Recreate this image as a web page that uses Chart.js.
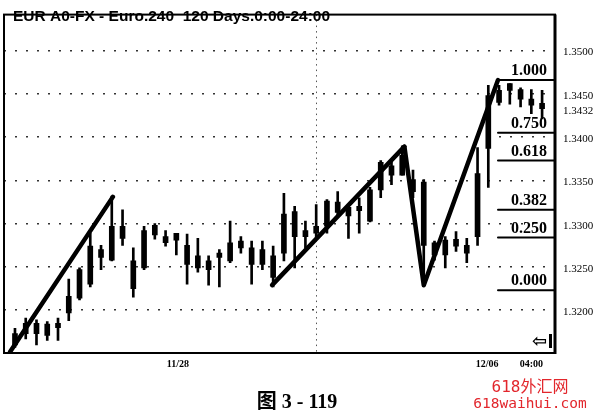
<!DOCTYPE html>
<html>
<head>
<meta charset="utf-8">
<script src="https://cdn.jsdelivr.net/npm/chart.js@4.4.1/dist/chart.umd.min.js"></script>
<style>
  html, body { margin: 0; padding: 0; background: #fff; }
  #wrap { width: 594px; height: 419px; }
</style>
</head>
<body>
<div id="wrap"><canvas id="chart" width="594" height="419"></canvas></div>
<script>
// EUR 4h candles (index 0 = first candle on the left)
const highs = [1.3179, 1.3191, 1.3189, 1.3187, 1.3191, 1.3236, 1.3249, 1.3289, 1.3275, 1.3332,
  1.3316, 1.3272, 1.3297, 1.3300, 1.3292, 1.3289, 1.3288, 1.3283, 1.3263, 1.3270,
  1.3303, 1.3285, 1.3280, 1.3280, 1.3274, 1.3335, 1.3320, 1.3303, 1.3322, 1.3328,
  1.3337, 1.3320, 1.3330, 1.3342, 1.3373, 1.3373, 1.3390, 1.3362, 1.3351, 1.3280,
  1.3285, 1.3291, 1.3283, 1.3388, 1.3460, 1.3460, 1.3462, 1.3457, 1.3455, 1.3454];
const lows = [1.3157, 1.3167, 1.3160, 1.3165, 1.3165, 1.3188, 1.3212, 1.3227, 1.3247, 1.3257,
  1.3275, 1.3215, 1.3247, 1.3282, 1.3274, 1.3264, 1.3230, 1.3244, 1.3229, 1.3227,
  1.3255, 1.3266, 1.3230, 1.3247, 1.3227, 1.3257, 1.3249, 1.3272, 1.3285, 1.3289,
  1.3309, 1.3283, 1.3289, 1.3302, 1.3330, 1.3345, 1.3356, 1.3330, 1.3229, 1.3258,
  1.3249, 1.3268, 1.3255, 1.3275, 1.3342, 1.3437, 1.3438, 1.3435, 1.3427, 1.3421];
const bodyHigh = [1.3173, 1.3185, 1.3185, 1.3184, 1.3185, 1.3216, 1.3247, 1.3274, 1.3270, 1.3297,
  1.3297, 1.3257, 1.3292, 1.3298, 1.3285, 1.3289, 1.3275, 1.3263, 1.3257, 1.3266,
  1.3278, 1.3280, 1.3272, 1.3270, 1.3263, 1.3311, 1.3314, 1.3292, 1.3297, 1.3326,
  1.3325, 1.3319, 1.3320, 1.3339, 1.3371, 1.3367, 1.3379, 1.3351, 1.3348, 1.3278,
  1.3281, 1.3282, 1.3275, 1.3358, 1.3448, 1.3454, 1.3462, 1.3455, 1.3444, 1.3439];
const bodyLow = [1.3160, 1.3173, 1.3173, 1.3171, 1.3180, 1.3197, 1.3214, 1.3230, 1.3261, 1.3258,
  1.3283, 1.3225, 1.3249, 1.3287, 1.3278, 1.3281, 1.3253, 1.3249, 1.3247, 1.3261,
  1.3257, 1.3272, 1.3253, 1.3253, 1.3238, 1.3266, 1.3285, 1.3285, 1.3289, 1.3297,
  1.3313, 1.3309, 1.3315, 1.3303, 1.3339, 1.3356, 1.3356, 1.3337, 1.3275, 1.3264,
  1.3264, 1.3274, 1.3266, 1.3285, 1.3387, 1.3440, 1.3454, 1.3444, 1.3437, 1.3433];

// hand-drawn trend lines, [candle index, price]
const trendUp1 = [[-0.45, 1.3152], [9.1, 1.3331]];
const trendUp2 = [[23.9, 1.3229], [36.2, 1.3389]];
const trendSwing = [[36.2, 1.3389], [38.0, 1.3229], [44.9, 1.3466]];

// fibonacci retracement levels
const fibRatios = ["1.000", "0.750", "0.618", "0.382", "0.250", "0.000"];
const fibPrices = [1.3466, 1.3405, 1.3373, 1.3316, 1.3284, 1.3223];
const fibStart = 44.9;

// axis ticks
const yTicks = [1.3200, 1.3250, 1.3300, 1.3350, 1.3400, 1.3432, 1.3450, 1.3500];
const yTickLabels = ["1.3200", "1.3250", "1.3300", "1.3350", "1.3400", "1.3432", "1.3450", "1.3500"];
const xTicks = [15.15, 28.0, 43.9, 48.0];
const xTickLabels = ["11/28", "", "12/06", "04:00"];

const title = "EUR A0-FX - Euro.240  120 Days.0:00-24:00";
const caption = "图 3 - 119";
const watermark = ["618外汇网", "618waihui.com"];

const X_MIN = -1.02;
const X_MAX = 50.2;

const toPoints = (line) => line.map(([x, y]) => ({ x, y }));

const candleIdx = highs.map((_, i) => i);

const lineSet = (data, width) => ({
  type: "line",
  data,
  borderColor: "#000",
  borderWidth: width,
  pointRadius: 0,
  borderCapStyle: "round",
  borderJoinStyle: "round",
  fill: false,
  order: 0,
});

const datasets = [
  {
    type: "bar",
    data: candleIdx.map((i) => ({ x: i, y: [lows[i], highs[i]] })),
    backgroundColor: "#000",
    barThickness: 2,
    grouped: false,
    order: 2,
  },
  {
    type: "bar",
    data: candleIdx.map((i) => ({ x: i, y: [bodyLow[i], bodyHigh[i]] })),
    backgroundColor: "#000",
    barThickness: 5,
    grouped: false,
    order: 1,
  },
  lineSet(toPoints(trendUp1), 4.5),
  lineSet(toPoints(trendUp2), 4.5),
  lineSet(toPoints(trendSwing), 4.5),
  ...fibPrices.map((p) => lineSet([{ x: fibStart, y: p }, { x: X_MAX, y: p }], 2)),
];

const decorations = {
  id: "decorations",
  afterDraw(chart) {
    const { ctx, chartArea: a, scales } = chart;
    ctx.save();

    // frame
    ctx.strokeStyle = "#000";
    ctx.lineWidth = 2;
    ctx.strokeRect(a.left, a.top, a.right - a.left, a.bottom - a.top);
    ctx.lineWidth = 3;
    ctx.beginPath();
    ctx.moveTo(a.right, a.top);
    ctx.lineTo(a.right, a.bottom + 1);
    ctx.stroke();

    ctx.fillStyle = "#000";
    ctx.textBaseline = "alphabetic";
    ctx.textAlign = "left";
    ctx.font = "bold 15.5px 'Liberation Sans', Arial, sans-serif";
    ctx.fillText(title, 13, 21);

    // fib labels
    ctx.textAlign = "right";
    ctx.font = "bold 16px 'Liberation Serif', serif";
    fibRatios.forEach((label, k) => {
      const y = scales.y.getPixelForValue(fibPrices[k]);
      ctx.fillText(label, 547, y - 5);
    });

    // little back-arrow icon
    ctx.textAlign = "left";
    ctx.textBaseline = "middle";
    ctx.font = "bold 18px 'DejaVu Sans'";
    ctx.fillText("⇦", 532, 342);
    ctx.fillRect(549, 334, 3, 14);

    // caption
    ctx.textAlign = "center";
    ctx.font = "bold 20px 'Liberation Serif', 'Noto Sans CJK SC', serif";
    ctx.fillText(caption, 297, 403);

    // watermark
    ctx.fillStyle = "#e2262c";
    ctx.font = "16px 'DejaVu Sans Mono', 'Noto Sans CJK SC', monospace";
    ctx.fillText(watermark[0], 530, 388);
    ctx.font = "14.5px 'DejaVu Sans Mono', monospace";
    ctx.fillText(watermark[1], 530, 404);

    ctx.restore();
  },
};

new Chart(document.getElementById("chart"), {
  type: "bar",
  data: { datasets },
  options: {
    responsive: false,
    animation: false,
    layout: { padding: { top: 5, left: 4, right: 0, bottom: 0 } },
    plugins: {
      legend: { display: false },
      tooltip: { enabled: false },
    },
    scales: {
      x: {
        type: "linear",
        position: "bottom",
        min: X_MIN,
        max: X_MAX,
        offset: false,
        afterBuildTicks: (s) => { s.ticks = xTicks.map((v) => ({ value: v })); },
        afterFit: (s) => { s.height = 66; },
        ticks: {
          autoSkip: false,
          maxRotation: 0,
          padding: 5,
          color: "#000",
          font: { family: "'Liberation Serif', serif", size: 10, weight: "bold" },
          callback: (v, i) => xTickLabels[i],
        },
        grid: {
          offset: false,
          drawTicks: false,
          color: (c) => (c.index === 1 ? "#555" : "rgba(0,0,0,0)"),
        },
        border: { display: false, dash: [1.5, 4] },
      },
      y: {
        position: "right",
        min: 1.31506,
        max: 1.35416,
        afterBuildTicks: (s) => { s.ticks = yTicks.map((v) => ({ value: v })); },
        afterFit: (s) => { s.width = 39; },
        ticks: {
          padding: 8,
          labelOffset: 2,
          color: "#000",
          font: { family: "'Liberation Serif', serif", size: 11 },
          callback: (v, i) => yTickLabels[i],
        },
        grid: {
          drawTicks: false,
          lineWidth: 1.5,
          color: (c) => (c.tick && c.tick.value === 1.3432 ? "rgba(0,0,0,0)" : "#333"),
        },
        border: { display: false, dash: [2, 9] },
      },
    },
  },
  plugins: [decorations],
});
</script>
</body>
</html>
